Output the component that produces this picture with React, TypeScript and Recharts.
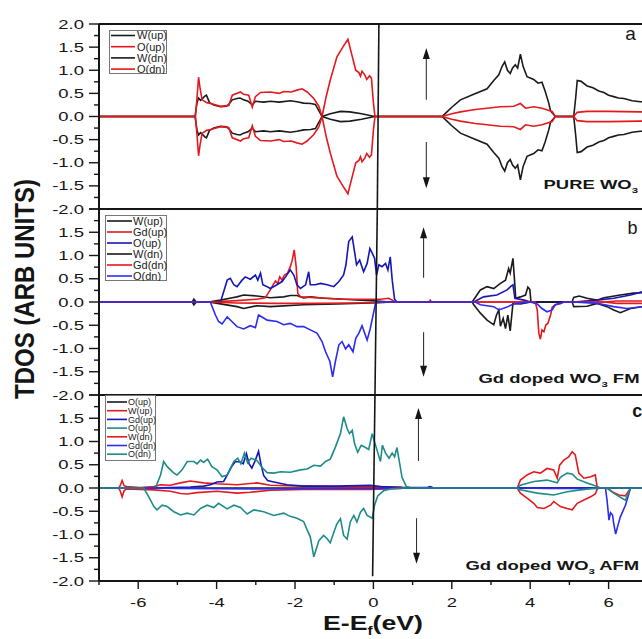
import React from 'react';
import { LineChart, Line, XAxis, YAxis, ReferenceLine, ReferenceDot, Legend } from 'recharts';

type Pt = [number, number];

// ---- panel a: pure WO3 (energy eV, DOS) ----
const wUpA: Pt[] = [[-7,0],[-4.55,0],[-4.5,0.3],[-4.46,0.4],[-4.41,0.35],[-4.37,0.38],[-4.3,0.44],[-4.26,0.46],[-4.18,0.3],[-4.07,0.25],[-3.9,0.21],[-3.75,0.22],[-3.69,0.26],[-3.6,0.36],[-3.48,0.39],[-3.4,0.4],[-3.31,0.36],[-3.2,0.33],[-3.09,0.25],[-3.01,0.33],[-2.8,0.31],[-2.63,0.33],[-2.4,0.31],[-2.12,0.34],[-1.95,0.32],[-1.78,0.29],[-1.6,0.28],[-1.48,0.26],[-1.31,0],[-1.1,0.06],[-0.84,0.11],[-0.6,0.1],[-0.3,0.06],[0.03,0],[1.75,0],[1.85,0.08],[2.0,0.2],[2.22,0.36],[2.56,0.48],[2.9,0.6],[3.07,0.78],[3.2,0.9],[3.28,1.08],[3.35,1.18],[3.42,1.0],[3.49,0.93],[3.55,1.05],[3.62,1.12],[3.68,1.05],[3.75,1.35],[3.82,1.08],[3.92,0.86],[4.09,0.8],[4.2,0.72],[4.3,0.74],[4.38,0.55],[4.47,0.3],[4.52,0.12],[4.64,0],[5.11,0],[5.16,0.4],[5.2,0.78],[5.3,0.76],[5.45,0.66],[5.6,0.62],[5.75,0.55],[5.88,0.52],[6.0,0.46],[6.13,0.43],[6.25,0.4],[6.39,0.39],[6.6,0.34],[6.81,0.32],[7.2,0.3],[8,0.27]];
const oUpA: Pt[] = [[-7,0],[-4.54,0],[-4.5,0.4],[-4.46,0.85],[-4.42,0.6],[-4.37,0.36],[-4.25,0.3],[-4.15,0.28],[-3.9,0.22],[-3.69,0.24],[-3.6,0.46],[-3.39,0.53],[-3.31,0.48],[-3.18,0.46],[-3.09,0.2],[-3.01,0.43],[-2.88,0.52],[-2.63,0.53],[-2.4,0.5],[-2.29,0.54],[-2.1,0.53],[-1.95,0.57],[-1.82,0.6],[-1.69,0.53],[-1.52,0.39],[-1.39,0.22],[-1.31,0],[-1.2,0.45],[-1.1,0.79],[-0.93,1.29],[-0.78,1.5],[-0.65,1.67],[-0.54,1.3],[-0.45,1.0],[-0.37,0.95],[-0.33,0.87],[-0.29,0.98],[-0.22,0.9],[-0.17,0.8],[-0.1,0.88],[-0.05,0.83],[0.0,0.3],[0.04,0],[1.75,0],[2.0,0.06],[2.22,0.1],[2.6,0.15],[2.9,0.18],[3.24,0.21],[3.58,0.22],[3.75,0.28],[3.88,0.18],[4.09,0.21],[4.3,0.18],[4.56,0.11],[4.64,0],[5.11,0],[5.2,0.09],[5.45,0.11],[6.0,0.11],[6.8,0.1],[8,0.1]];
const wDnA: Pt[] = [[-7,0],[-4.55,0],[-4.5,-0.3],[-4.46,-0.4],[-4.41,-0.35],[-4.37,-0.38],[-4.3,-0.44],[-4.26,-0.46],[-4.18,-0.3],[-4.07,-0.25],[-3.9,-0.21],[-3.75,-0.22],[-3.69,-0.26],[-3.6,-0.36],[-3.48,-0.39],[-3.4,-0.4],[-3.31,-0.36],[-3.2,-0.33],[-3.09,-0.25],[-3.01,-0.33],[-2.8,-0.31],[-2.63,-0.33],[-2.4,-0.31],[-2.12,-0.34],[-1.95,-0.32],[-1.78,-0.29],[-1.6,-0.28],[-1.48,-0.26],[-1.31,0],[-1.1,-0.06],[-0.84,-0.11],[-0.6,-0.1],[-0.3,-0.06],[0.03,0],[1.75,0],[1.85,-0.08],[2.0,-0.2],[2.22,-0.36],[2.56,-0.48],[2.9,-0.6],[3.07,-0.78],[3.2,-0.9],[3.28,-1.08],[3.35,-1.18],[3.42,-1.0],[3.49,-0.93],[3.55,-1.05],[3.62,-1.12],[3.68,-1.05],[3.75,-1.37],[3.82,-1.08],[3.92,-0.86],[4.09,-0.8],[4.2,-0.72],[4.3,-0.74],[4.38,-0.55],[4.47,-0.3],[4.52,-0.12],[4.64,0],[5.11,0],[5.16,-0.4],[5.2,-0.78],[5.3,-0.76],[5.45,-0.66],[5.6,-0.62],[5.75,-0.55],[5.88,-0.52],[6.0,-0.46],[6.13,-0.43],[6.25,-0.4],[6.39,-0.39],[6.6,-0.34],[6.81,-0.32],[7.2,-0.3],[8,-0.27]];
const oDnA: Pt[] = [[-7,0],[-4.54,0],[-4.5,-0.4],[-4.46,-0.85],[-4.42,-0.6],[-4.37,-0.36],[-4.25,-0.3],[-4.15,-0.28],[-3.9,-0.22],[-3.69,-0.24],[-3.6,-0.46],[-3.39,-0.53],[-3.31,-0.48],[-3.18,-0.46],[-3.09,-0.2],[-3.01,-0.43],[-2.88,-0.52],[-2.63,-0.53],[-2.4,-0.5],[-2.29,-0.54],[-2.1,-0.53],[-1.95,-0.57],[-1.82,-0.6],[-1.69,-0.53],[-1.52,-0.39],[-1.39,-0.22],[-1.31,0],[-1.2,-0.45],[-1.1,-0.79],[-0.93,-1.29],[-0.78,-1.5],[-0.65,-1.67],[-0.54,-1.3],[-0.45,-1.0],[-0.37,-0.95],[-0.33,-0.87],[-0.29,-0.98],[-0.22,-0.9],[-0.17,-0.8],[-0.1,-0.88],[-0.05,-0.83],[0.0,-0.3],[0.04,0],[1.75,0],[2.0,-0.06],[2.22,-0.1],[2.6,-0.15],[2.9,-0.18],[3.24,-0.21],[3.58,-0.22],[3.75,-0.28],[3.88,-0.18],[4.09,-0.21],[4.3,-0.18],[4.56,-0.11],[4.64,0],[5.11,0],[5.2,-0.09],[5.45,-0.11],[6.0,-0.11],[6.8,-0.1],[8,-0.1]];

// ---- panel b: Gd doped WO3, FM ----
const wUpB: Pt[] = [[-7,0],[-4.62,0],[-4.58,0.06],[-4.54,0.02],[-4.5,0],[-4.2,0],[-3.9,0.04],[-3.6,0.09],[-3.48,0.11],[-3.31,0.15],[-2.97,0.13],[-2.63,0.09],[-2.29,0.11],[-2.12,0.14],[-1.95,0.14],[-1.78,0.09],[-1.61,0.11],[-1.27,0.08],[-0.76,0.06],[-0.08,0.03],[0.26,0.01],[0.4,0],[2.52,0],[2.64,0.15],[2.73,0.26],[2.9,0.33],[3.07,0.29],[3.24,0.4],[3.37,0.47],[3.45,0.72],[3.49,0.62],[3.56,0.94],[3.6,0.47],[3.63,0.08],[3.75,0.11],[3.88,0.15],[3.94,0.32],[3.99,0.27],[4.02,0],[5.07,0],[5.11,0.1],[5.25,0.13],[5.45,0.08],[5.7,0.04],[5.88,0.09],[6.3,0.15],[6.64,0.19],[6.86,0.2],[8,0.2]];
const gdUpB: Pt[] = [[-7,0],[-4.16,0],[-3.48,0.03],[-2.97,0.06],[-2.76,0.09],[-2.63,0.26],[-2.56,0.37],[-2.5,0.45],[-2.44,0.4],[-2.39,0.54],[-2.33,0.47],[-2.27,0.58],[-2.19,0.62],[-2.12,0.76],[-2.07,0.9],[-2.02,1.12],[-1.97,0.76],[-1.93,0.19],[-1.86,0.11],[-1.61,0.1],[-1.18,0.08],[-0.76,0.06],[-0.08,0.06],[0.18,0.06],[0.39,0.08],[0.48,0.04],[0.56,0],[1.42,0],[1.45,0.04],[1.48,0],[5.9,0],[6.2,0.02],[8,0.02]];
const oUpB: Pt[] = [[-7,0],[-3.9,0],[-3.82,0.22],[-3.73,0.47],[-3.65,0.51],[-3.56,0.37],[-3.48,0.33],[-3.35,0.47],[-3.27,0.54],[-3.14,0.49],[-3.01,0.58],[-2.95,0.47],[-2.88,0.62],[-2.82,0.37],[-2.71,0.33],[-2.63,0.29],[-2.46,0.37],[-2.33,0.44],[-2.24,0.54],[-2.12,0.69],[-2.03,0.58],[-1.95,0.37],[-1.86,0.29],[-1.73,0.37],[-1.65,0.65],[-1.61,0.37],[-1.48,0.37],[-1.35,0.4],[-1.18,0.37],[-1.01,0.33],[-0.88,0.44],[-0.76,0.58],[-0.7,0.8],[-0.63,1.3],[-0.54,1.4],[-0.48,1.08],[-0.43,0.8],[-0.35,0.9],[-0.25,0.65],[-0.16,0.83],[-0.09,1.15],[-0.03,1.05],[0.03,0.94],[0.08,0.58],[0.14,0.8],[0.22,0.76],[0.31,0.83],[0.37,0.69],[0.43,0.97],[0.48,0.47],[0.54,0.06],[0.6,0],[2.56,0],[2.81,0.11],[3.15,0.15],[3.41,0.26],[3.51,0.34],[3.56,0.37],[3.61,0.08],[3.84,0.04],[4.02,0],[5.11,0],[5.71,0.04],[6.13,0.08],[6.56,0.15],[6.86,0.22],[8,0.24]];
const wDnB: Pt[] = [[-7,0],[-4.62,0],[-4.58,-0.06],[-4.54,-0.02],[-4.5,0],[-4.2,0],[-3.9,-0.04],[-3.48,-0.1],[-3.31,-0.14],[-2.97,-0.08],[-2.63,-0.1],[-1.78,-0.06],[-0.93,-0.04],[-0.08,-0.02],[0.26,-0.01],[0.4,0],[2.52,0],[2.56,-0.06],[2.73,-0.24],[2.9,-0.39],[3.07,-0.49],[3.14,-0.28],[3.2,-0.17],[3.24,-0.52],[3.31,-0.35],[3.37,-0.57],[3.43,-0.28],[3.49,-0.62],[3.56,-0.03],[3.75,-0.04],[4.02,0],[5.07,0],[5.11,-0.1],[5.45,-0.09],[5.71,-0.03],[5.96,-0.1],[6.13,-0.17],[6.3,-0.23],[6.56,-0.14],[6.86,-0.1],[8,-0.1]];
const gdDnB: Pt[] = [[-7,0],[-4.16,0],[-3.5,-0.02],[-2.5,-0.03],[-1.5,-0.03],[-0.5,-0.02],[0.1,-0.01],[0.3,0],[4.13,0],[4.18,-0.17],[4.22,-0.67],[4.26,-0.8],[4.3,-0.6],[4.35,-0.64],[4.4,-0.49],[4.45,-0.46],[4.52,-0.28],[4.56,-0.11],[4.64,-0.06],[4.77,-0.04],[4.86,0],[5.9,0],[6.2,-0.03],[8,-0.03]];
const oDnB: Pt[] = [[-7,0],[-4.16,0],[-4.03,-0.28],[-3.95,-0.42],[-3.86,-0.47],[-3.73,-0.32],[-3.61,-0.42],[-3.48,-0.53],[-3.31,-0.58],[-3.14,-0.51],[-3.01,-0.55],[-2.93,-0.28],[-2.81,-0.34],[-2.71,-0.39],[-2.46,-0.42],[-2.29,-0.49],[-2.12,-0.46],[-1.95,-0.53],[-1.78,-0.53],[-1.61,-0.6],[-1.44,-0.67],[-1.31,-0.85],[-1.22,-1.07],[-1.11,-1.28],[-1.04,-1.61],[-0.97,-1.28],[-0.88,-0.92],[-0.8,-0.85],[-0.71,-1.01],[-0.63,-0.92],[-0.52,-1.07],[-0.45,-0.78],[-0.37,-0.67],[-0.29,-0.51],[-0.16,-0.82],[-0.08,-0.57],[0.01,-0.21],[0.06,0],[2.6,0],[2.73,-0.06],[3.07,-0.1],[3.2,-0.17],[3.41,-0.11],[3.58,-0.04],[4.0,0],[4.18,-0.04],[4.3,-0.14],[4.43,-0.21],[4.56,-0.17],[4.64,-0.06],[4.86,0],[5.11,0],[5.71,-0.03],[6.13,-0.1],[6.47,-0.14],[6.86,-0.1],[8,-0.1]];

// ---- panel c: Gd doped WO3, AFM ----
const oUpBlackC: Pt[] = [[-7,0],[8,0]];
const wUpC: Pt[] = [[-7,0],[-6.5,0],[-6.46,0.05],[-6.41,0.16],[-6.36,0.05],[-6.3,0.03],[-5.94,0.01],[-5.6,0.03],[-5.43,0.07],[-5.18,0.06],[-4.92,0.11],[-4.67,0.15],[-4.33,0.11],[-3.99,0.09],[-3.48,0.07],[-2.97,0.11],[-2.63,0.06],[-1.78,0.04],[-0.93,0.03],[-0.08,0.03],[0.69,0.02],[0.8,0],[3.67,0],[3.75,0.17],[3.92,0.28],[4.09,0.35],[4.26,0.32],[4.43,0.42],[4.6,0.39],[4.69,0.21],[4.75,0.49],[4.86,0.6],[4.98,0.67],[5.07,0.78],[5.15,0.71],[5.24,0.32],[5.37,0.21],[5.54,0.24],[5.66,0.28],[5.71,0.01],[5.79,0],[8,0]];
const gdUpC: Pt[] = [[-7,0],[-5.8,0],[-5.18,0.01],[-4.67,0.02],[-4.33,0.04],[-4.16,0.07],[-3.99,0.13],[-3.82,0.14],[-3.69,0.34],[-3.61,0.47],[-3.52,0.57],[-3.39,0.56],[-3.32,0.52],[-3.24,0.74],[-3.17,0.52],[-3.1,0.43],[-3.01,0.6],[-2.93,0.79],[-2.87,0.52],[-2.8,0.27],[-2.7,0.16],[-2.54,0.13],[-2.2,0.07],[-1.78,0.04],[-0.93,0.04],[-0.08,0.06],[0.18,0.03],[0.69,0.01],[1.37,0.01],[1.45,0.03],[1.54,0],[8,0]];
const oUpC: Pt[] = [[-7,0],[-5.56,0],[-5.43,0.28],[-5.35,0.57],[-5.26,0.46],[-5.09,0.32],[-5.01,0.28],[-4.88,0.39],[-4.75,0.57],[-4.58,0.57],[-4.5,0.52],[-4.41,0.6],[-4.33,0.55],[-4.23,0.62],[-4.12,0.46],[-3.99,0.39],[-3.86,0.24],[-3.73,0.28],[-3.65,0.42],[-3.56,0.57],[-3.46,0.64],[-3.38,0.52],[-3.29,0.75],[-3.21,0.54],[-3.12,0.64],[-2.97,0.59],[-2.84,0.44],[-2.71,0.33],[-2.54,0.32],[-2.37,0.35],[-2.12,0.34],[-1.86,0.39],[-1.69,0.41],[-1.52,0.49],[-1.35,0.47],[-1.22,0.57],[-1.1,0.62],[-0.97,0.88],[-0.84,1.17],[-0.76,1.53],[-0.67,1.28],[-0.61,1.17],[-0.54,1.24],[-0.48,0.95],[-0.4,0.77],[-0.31,0.92],[-0.2,0.87],[-0.12,0.83],[-0.03,1.17],[0.03,0.99],[0.09,0.82],[0.18,0.57],[0.23,0.92],[0.31,0.75],[0.4,0.64],[0.48,0.75],[0.54,0.67],[0.6,0.87],[0.67,0.53],[0.73,0.23],[0.84,0.03],[0.99,0],[3.67,0],[3.75,0.06],[4.09,0.14],[4.43,0.17],[4.69,0.11],[4.77,0.23],[4.94,0.32],[5.07,0.3],[5.2,0.19],[5.45,0.11],[5.71,0.03],[5.79,0],[8,0]];
const wDnC: Pt[] = [[-7,0],[-6.5,0],[-6.46,-0.06],[-6.41,-0.19],[-6.36,-0.06],[-6.3,-0.02],[-5.6,-0.04],[-5.18,-0.07],[-4.92,-0.12],[-4.75,-0.13],[-4.5,-0.1],[-3.99,-0.07],[-3.48,-0.11],[-3.14,-0.09],[-2.63,-0.05],[-1.78,-0.03],[-0.08,-0.03],[0.69,-0.01],[0.8,0],[3.67,0],[3.75,-0.11],[3.92,-0.22],[4.09,-0.33],[4.18,-0.42],[4.35,-0.44],[4.52,-0.37],[4.6,-0.29],[4.77,-0.4],[4.94,-0.44],[5.07,-0.47],[5.2,-0.33],[5.37,-0.26],[5.54,-0.19],[5.66,-0.13],[5.72,0],[5.96,0],[6.09,-0.08],[6.26,-0.15],[6.43,-0.17],[6.56,0],[8,0]];
const gdDnC: Pt[] = [[-7,0],[-5.8,0],[-5,-0.01],[-3,-0.02],[-1,-0.01],[0.5,-0.01],[1.0,0],[3.67,0],[4.5,-0.01],[5.7,-0.01],[5.92,0],[5.96,-0.26],[6.01,-0.69],[6.05,-0.53],[6.1,-0.58],[6.13,-0.76],[6.18,-0.99],[6.23,-0.83],[6.3,-0.62],[6.43,-0.37],[6.56,0],[8,0]];
const oDnC: Pt[] = [[-7,0],[-5.86,0],[-5.73,-0.19],[-5.6,-0.4],[-5.52,-0.47],[-5.39,-0.37],[-5.26,-0.4],[-5.09,-0.51],[-4.92,-0.58],[-4.75,-0.54],[-4.58,-0.58],[-4.41,-0.44],[-4.24,-0.37],[-4.07,-0.42],[-3.95,-0.33],[-3.73,-0.45],[-3.56,-0.37],[-3.39,-0.42],[-3.22,-0.56],[-3.05,-0.47],[-2.8,-0.51],[-2.54,-0.59],[-2.29,-0.54],[-2.12,-0.61],[-1.95,-0.65],[-1.78,-0.72],[-1.69,-0.9],[-1.61,-1.05],[-1.52,-1.48],[-1.39,-1.13],[-1.27,-1.02],[-1.18,-1.09],[-1.1,-1.18],[-1.01,-0.95],[-0.93,-0.77],[-0.84,-0.66],[-0.76,-1.02],[-0.67,-1.1],[-0.59,-0.73],[-0.5,-0.59],[-0.42,-0.73],[-0.33,-0.52],[-0.25,-0.44],[-0.16,-0.59],[-0.03,-0.65],[0.03,-0.37],[0.11,-0.17],[0.26,-0.06],[0.48,-0.01],[0.77,0],[3.67,0],[3.75,-0.04],[4.18,-0.11],[4.6,-0.15],[4.94,-0.08],[5.28,-0.04],[5.71,0],[5.96,0],[6.13,-0.11],[6.34,-0.22],[6.43,-0.26],[6.56,0],[8,0]];

// axis ticks
const xTicks = [-7, -6, -5, -4, -3, -2, -1, 0, 1, 2, 3, 4, 5, 6, 7, 8];
const xLabels = [-6, -4, -2, 0, 2, 4, 6];
const yTicks = [-2, -1.75, -1.5, -1.25, -1, -0.75, -0.5, -0.25, 0, 0.25, 0.5, 0.75, 1, 1.25, 1.5, 1.75, 2];
const yLabels = [-2, -1.5, -1, -0.5, 0, 0.5, 1, 1.5, 2];

const FONT = '"Liberation Sans", Arial, sans-serif';
const INK = '#151515';
const CHART_W = 700;

type Series = { name: string; color: string; pts: Pt[] };
type LegendCfg = { left: number; top: number; w: number; h: number; y0: number; dy: number; lineEnd: number; textX: number; font: number };
type Seg = [{ x: number; y: number }, { x: number; y: number }];

const rows = (pts: Pt[]) => pts.map(([e, dos]) => ({ e, dos }));

const makeYTick = (showTop: boolean) => (props: any) => {
  const { x, y, payload } = props;
  const v = payload.value as number;
  const major = yLabels.includes(v);
  const show = major && (showTop || v !== 2);
  return (
    <g>
      <line x1={x - (major ? 10 : 5)} x2={x} y1={y} y2={y} stroke={INK} strokeWidth={1.4} />
      {show && (
        <text transform={`translate(${x - 15},${y + 4.6}) scale(1.42,1)`} textAnchor="end" fontSize={13} fontFamily={FONT} fill={INK}>
          {v.toFixed(1)}
        </text>
      )}
    </g>
  );
};

const XTick = (props: any) => {
  const { x, y, payload } = props;
  const v = payload.value as number;
  const major = xLabels.includes(v);
  return (
    <g>
      <line x1={x} x2={x} y1={y} y2={y + (major ? 8 : 4)} stroke={INK} strokeWidth={1.4} />
      {major && (
        <text transform={`translate(${x},${y + 26}) scale(1.42,1)`} textAnchor="middle" fontSize={13} fontFamily={FONT} fill={INK}>
          {v}
        </text>
      )}
    </g>
  );
};

const arrowShape = (props: any) => {
  const { x1, y1, x2, y2 } = props;
  const dir = y2 > y1 ? 1 : -1;
  return (
    <g>
      <line x1={x1} y1={y1} x2={x2} y2={y2 - dir * 8} stroke="#333" strokeWidth={1.1} />
      <path d={`M${x2},${y2} L${x2 - 3.5},${y2 - dir * 11} L${x2 + 3.5},${y2 - dir * 11} Z`} fill={INK} />
    </g>
  );
};

const legendContent = (series: Series[], cfg: LegendCfg) => () => (
  <svg width={cfg.w} height={cfg.h} style={{ display: 'block' }}>
    <rect x={0.5} y={0.5} width={cfg.w - 1} height={cfg.h - 1} fill="#fff" stroke="#777" strokeWidth={1} />
    {series.map((s, i) => {
      const y = cfg.y0 + i * cfg.dy;
      return (
        <g key={i}>
          <line x1={2} x2={cfg.lineEnd} y1={y} y2={y} stroke={s.color} strokeWidth={1.6} />
          <text x={cfg.textX} y={y + cfg.font * 0.36} fontSize={cfg.font} fontFamily={FONT} fill="#222">
            {s.name}
          </text>
        </g>
      );
    })}
  </svg>
);

// bold caption with a subscript 3 in "WO3"
const caption = (head: string, tail: string) => (p: any) => (
  <text transform={`translate(${p.cx},${p.cy}) scale(1.42,1)`} fontSize={13} fontWeight={700} fontFamily={FONT} fill={INK}>
    {head}
    <tspan fontSize={8} dy={4}>3</tspan>
    <tspan dy={-4}>{tail}</tspan>
  </text>
);

const letter = (ch: string, size: number, bold: boolean) => (p: any) => (
  <text x={p.cx} y={p.cy} textAnchor="middle" fontSize={size} fontWeight={bold ? 700 : 400} fontFamily={FONT} fill={INK}>
    {ch}
  </text>
);

const YTitle = (props: any) => {
  const vb = props.viewBox;
  const cy = vb.y + vb.height / 2 - 13;
  return (
    <text transform={`translate(34,${cy}) rotate(-90) scale(1,1.15)`} textAnchor="middle" fontSize={24} fontWeight={700} fontFamily={FONT} fill={INK}>
      TDOS (ARB UNITS)
    </text>
  );
};

const XTitle = (props: any) => {
  const vb = props.viewBox;
  return (
    <text transform={`translate(373,${vb.y + 49}) scale(1.27,1)`} textAnchor="middle" fontSize={21} fontWeight={700} fontFamily={FONT} fill={INK}>
      E-E<tspan fontSize={12} dy={5}>f</tspan>
      <tspan dy={-5}>(eV)</tspan>
    </text>
  );
};

type PanelProps = {
  top: number;
  height: number;
  margin: { top: number; bottom: number };
  series: Series[];
  legend: LegendCfg;
  fermi: Seg;
  arrows: Seg[];
  notes: React.ReactElement[];
  showTop: boolean;
  bottomAxis?: boolean;
  yTitle?: boolean;
};

function Panel(p: PanelProps) {
  return (
    <div style={{ position: 'absolute', left: 0, top: p.top }}>
      <LineChart width={CHART_W} height={p.height} margin={{ top: p.margin.top, right: 13, bottom: p.margin.bottom, left: 0 }}>
        <XAxis
          type="number"
          dataKey="e"
          domain={[-7, 8]}
          allowDataOverflow
          ticks={xTicks}
          interval={0}
          hide={!p.bottomAxis}
          height={53}
          tickSize={0}
          tickMargin={0}
          tickLine={false}
          tick={XTick}
          axisLine={{ stroke: INK, strokeWidth: 2 }}
          label={p.bottomAxis ? <XTitle /> : undefined}
        />
        <YAxis
          type="number"
          domain={[-2, 2]}
          allowDataOverflow
          ticks={yTicks}
          interval={0}
          width={99}
          tickSize={0}
          tickMargin={0}
          tickLine={false}
          tick={makeYTick(p.showTop)}
          axisLine={{ stroke: INK, strokeWidth: 2 }}
          label={p.yTitle ? <YTitle /> : undefined}
        />
        <ReferenceLine y={2} stroke={INK} strokeWidth={2} />
        {!p.bottomAxis && <ReferenceLine y={-2} stroke={INK} strokeWidth={2} />}
        {p.series.map((s, i) => (
          <Line
            key={i}
            data={rows(s.pts)}
            dataKey="dos"
            name={s.name}
            type="linear"
            stroke={s.color}
            strokeWidth={1.6}
            dot={false}
            activeDot={false}
            isAnimationActive={false}
          />
        ))}
        <ReferenceLine segment={p.fermi} stroke={INK} strokeWidth={1.6} />
        {p.arrows.map((a, i) => (
          <ReferenceLine key={`arr${i}`} segment={a} shape={arrowShape} />
        ))}
        {p.notes}
        <Legend
          layout="vertical"
          align="center"
          verticalAlign="middle"
          wrapperStyle={{ left: p.legend.left, top: p.legend.top, width: p.legend.w, height: p.legend.h }}
          content={legendContent(p.series, p.legend)}
        />
      </LineChart>
    </div>
  );
}

const BLACK = '#1a1a1a';
const RED = '#e3191e';
const BLUE = '#1616b8';
const BLUE_LIGHT = '#2c2cf0';
const TEAL = '#1d8c88';

const seriesA: Series[] = [
  { name: 'W(up)', color: BLACK, pts: wUpA },
  { name: 'O(up)', color: RED, pts: oUpA },
  { name: 'W(dn)', color: BLACK, pts: wDnA },
  { name: 'O(dn)', color: RED, pts: oDnA },
];
const seriesB: Series[] = [
  { name: 'W(up)', color: BLACK, pts: wUpB },
  { name: 'Gd(up)', color: RED, pts: gdUpB },
  { name: 'O(up)', color: BLUE, pts: oUpB },
  { name: 'W(dn)', color: BLACK, pts: wDnB },
  { name: 'Gd(dn)', color: RED, pts: gdDnB },
  { name: 'O(dn)', color: BLUE_LIGHT, pts: oDnB },
];
const seriesC: Series[] = [
  { name: 'O(up)', color: BLACK, pts: oUpBlackC },
  { name: 'W(up)', color: RED, pts: wUpC },
  { name: 'Gd(up)', color: BLUE, pts: gdUpC },
  { name: 'O(up)', color: TEAL, pts: oUpC },
  { name: 'W(dn)', color: RED, pts: wDnC },
  { name: 'Gd(dn)', color: BLUE_LIGHT, pts: gdDnC },
  { name: 'O(dn)', color: TEAL, pts: oDnC },
];

export default function App() {
  return (
    <div style={{ position: 'absolute', left: 0, top: 0, width: 642, height: 639, overflow: 'hidden', background: '#fff' }}>
      {/* panel svgs overlap at their shared borders; let labels spill over */}
      <style>{'.recharts-surface{overflow:visible}'}</style>
      <Panel
        top={0}
        height={210}
        margin={{ top: 24, bottom: 1 }}
        series={seriesA}
        legend={{ left: 109, top: 30, w: 58, h: 44, y0: 5.5, dy: 11.2, lineEnd: 26, textX: 28, font: 11 }}
        fermi={[{ x: 0.14, y: 2 }, { x: 0.1, y: -2 }]}
        arrows={[
          [{ x: 1.35, y: 0.36 }, { x: 1.35, y: 1.48 }],
          [{ x: 1.35, y: -0.55 }, { x: 1.35, y: -1.55 }],
        ]}
        notes={[
          <ReferenceDot key="a" x={6.56} y={1.65} r={0} shape={letter('a', 19, false)} />,
          <ReferenceDot key="t" x={4.34} y={-1.57} r={0} shape={caption('PURE WO', '')} />,
        ]}
        showTop
      />
      <Panel
        top={204}
        height={192}
        margin={{ top: 5, bottom: 1 }}
        series={seriesB}
        legend={{ left: 105, top: 11, w: 62, h: 66, y0: 6, dy: 11, lineEnd: 27, textX: 28, font: 11 }}
        fermi={[{ x: 0.1, y: 2 }, { x: 0.04, y: -2 }]}
        arrows={[
          [{ x: 1.28, y: 0.52 }, { x: 1.28, y: 1.61 }],
          [{ x: 1.28, y: -0.65 }, { x: 1.28, y: -1.61 }],
        ]}
        notes={[
          <ReferenceDot key="b" x={6.61} y={1.46} r={0} shape={letter('b', 18, false)} />,
          <ReferenceDot key="t" x={2.68} y={-1.74} r={0} shape={caption('Gd doped WO', ' FM')} />,
        ]}
        showTop={false}
        yTitle
      />
      <Panel
        top={390}
        height={244}
        margin={{ top: 5, bottom: 0 }}
        series={seriesC}
        legend={{ left: 105, top: 5, w: 51, h: 66, y0: 7, dy: 8.7, lineEnd: 22, textX: 23, font: 9 }}
        fermi={[{ x: 0.04, y: 2 }, { x: -0.02, y: -1.9 }]}
        arrows={[
          [{ x: 1.15, y: 0.58 }, { x: 1.15, y: 1.72 }],
          [{ x: 1.1, y: -0.65 }, { x: 1.1, y: -1.63 }],
        ]}
        notes={[
          <ReferenceDot key="c" x={6.73} y={1.53} r={0} shape={letter('c', 18, true)} />,
          <ReferenceDot key="t" x={2.35} y={-1.76} r={0} shape={caption('Gd doped WO', ' AFM')} />,
        ]}
        showTop={false}
        bottomAxis
      />
    </div>
  );
}
